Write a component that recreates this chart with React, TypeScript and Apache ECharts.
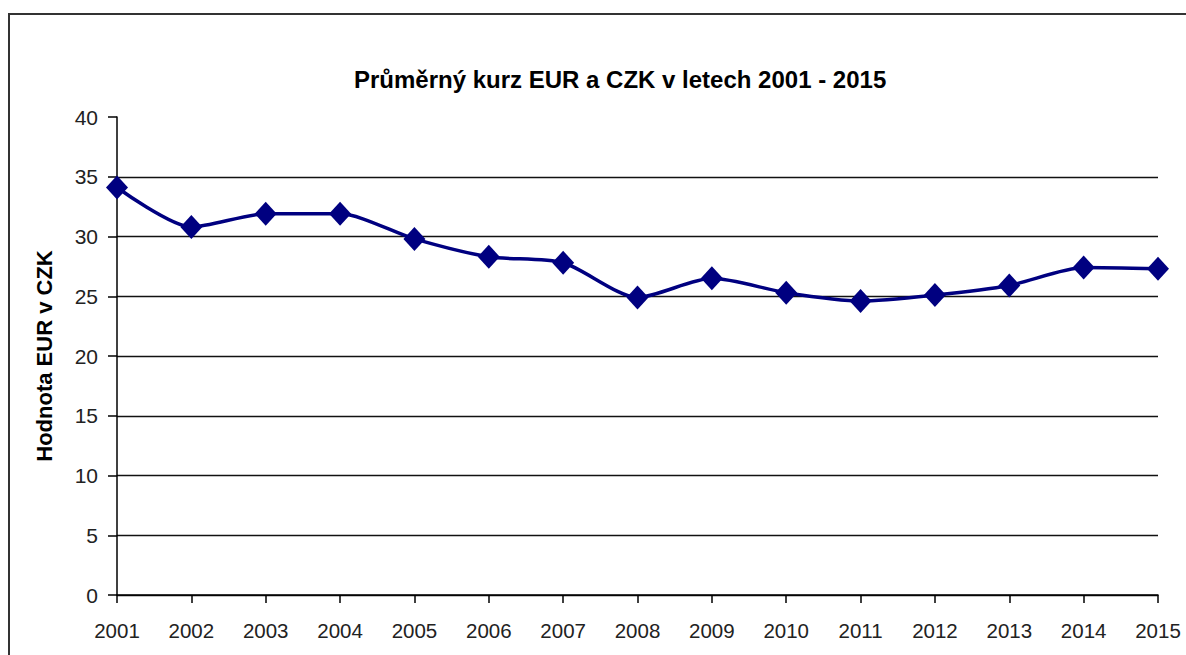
import React, { useEffect, useRef } from "react";
import * as echarts from "echarts";

const years = ["2001", "2002", "2003", "2004", "2005", "2006", "2007", "2008", "2009", "2010", "2011", "2012", "2013", "2014", "2015"];
const eurCzk = [34.1, 30.8, 31.9, 31.9, 29.8, 28.3, 27.8, 24.9, 26.5, 25.3, 24.6, 25.1, 25.9, 27.4, 27.3];
const chartTitle = "Průměrný kurz EUR a CZK v letech 2001 - 2015";
const yAxisName = "Hodnota EUR v CZK";

export default function App() {
  const ref = useRef<HTMLDivElement>(null);
  useEffect(() => {
    if (!ref.current) return;
    const chart = echarts.init(ref.current, undefined, { renderer: "svg" });
    chart.setOption({
      animation: false,
      backgroundColor: "#ffffff",
      textStyle: { fontFamily: "Liberation Sans, Arial, sans-serif" },
      title: {
        text: chartTitle,
        left: 349,
        top: 62,
        textStyle: { fontSize: 24, fontWeight: "bold", color: "#000", fontFamily: "Liberation Sans, Arial, sans-serif" },
      },
      graphic: [
        {
          type: "rect",
          shape: { x: 9, y: 14, width: 1200, height: 700 },
          style: { fill: "none", stroke: "#333", lineWidth: 2 },
          silent: true,
        },
      ],
      grid: { left: 117, right: 28, top: 117, bottom: 60 },
      xAxis: {
        type: "category",
        data: years,
        boundaryGap: false,
        axisLine: { lineStyle: { color: "#000", width: 1.5 } },
        axisTick: { show: true, length: 8, alignWithLabel: true, lineStyle: { color: "#000", width: 1.5 } },
        axisLabel: { color: "#222", fontSize: 20.5, margin: 25, interval: 0 },
        splitLine: { show: false },
      },
      yAxis: {
        type: "value",
        min: 0,
        max: 40,
        interval: 5,
        name: yAxisName,
        nameLocation: "middle",
        nameGap: 62,
        nameTextStyle: { fontSize: 22, fontWeight: "bold", color: "#000" },
        axisLine: { show: true, lineStyle: { color: "#000", width: 1.5 } },
        axisTick: { show: true, length: 9, lineStyle: { color: "#000", width: 1.5 } },
        axisLabel: { color: "#222", fontSize: 21, margin: 19 },
        splitLine: { show: true, showMaxLine: false, lineStyle: { color: "#111", width: 1.3 } },
      },
      series: [
        {
          type: "line",
          data: eurCzk,
          smooth: 0.25,
          symbol: "diamond",
          symbolSize: [22, 24],
          lineStyle: { color: "#000080", width: 3.5 },
          itemStyle: { color: "#000080" },
        },
      ],
    });
    return () => chart.dispose();
  }, []);
  return <div ref={ref} style={{ position: "fixed", left: 0, top: 0, width: 1186, height: 655 }} />;
}
